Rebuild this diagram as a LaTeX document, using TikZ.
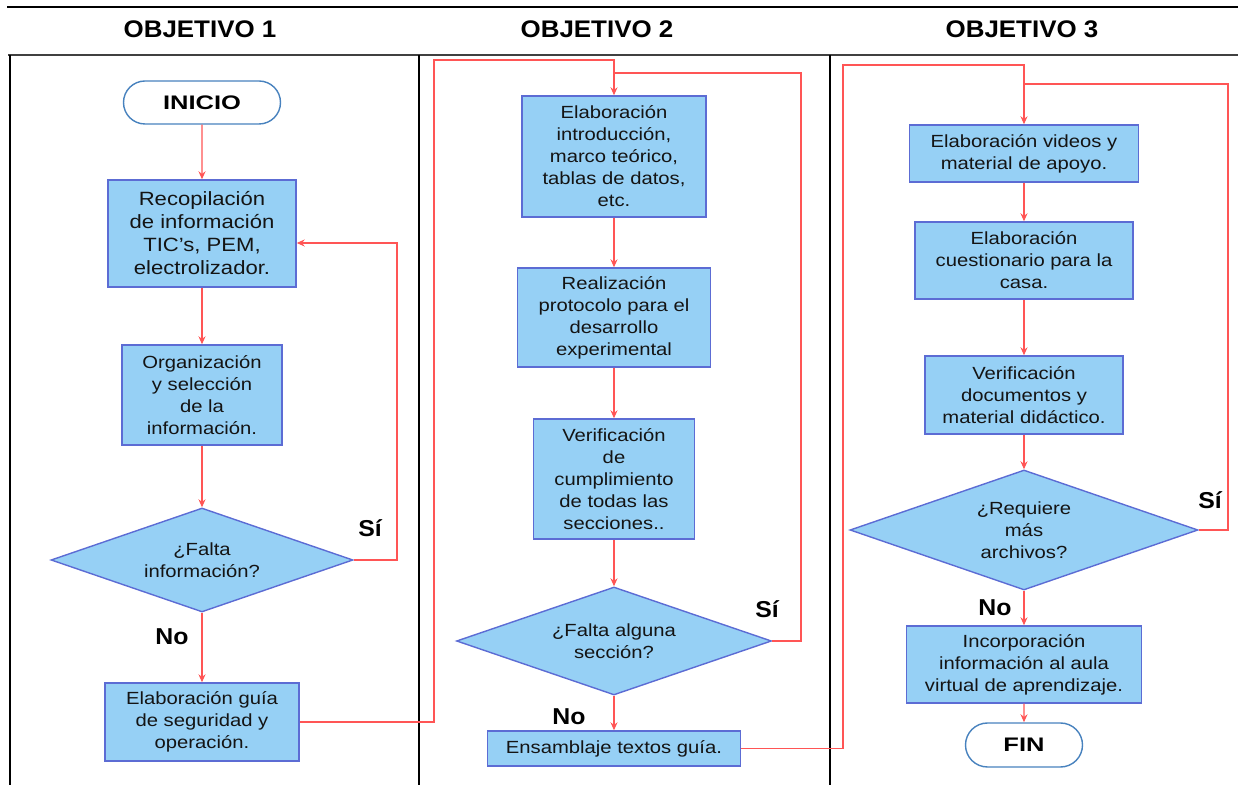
\documentclass[tikz,border=0pt]{standalone}
\usepackage{fontspec}
\setmainfont{Liberation Sans}[FakeStretch=1.15]
\newfontfamily\hdrfont{Liberation Sans}[FakeStretch=1.08]
\newfontfamily\termfont{Liberation Sans}[FakeStretch=1.3]
\usetikzlibrary{shapes.geometric,shapes.misc,arrows.meta}
\definecolor{boxfill}{RGB}{150,208,245}
\definecolor{boxline}{RGB}{92,108,212}
\definecolor{termline}{RGB}{72,130,190}
\definecolor{flow}{RGB}{255,85,85}
\definecolor{txt}{RGB}{20,20,20}
\tikzset{
  x=0.5pt, y=-0.5pt,
  procbox/.style={draw=boxline, line width=0.7pt, fill=boxfill, align=center,
    inner sep=0pt, text=txt, font=\fontsize{8.8}{11}\selectfont},
  decision/.style={diamond, draw=boxline, line width=0.7pt, fill=boxfill, align=center,
    inner sep=0pt, text=txt, font=\fontsize{8.8}{11}\selectfont},
  terminal/.style={rounded rectangle, draw=termline, line width=0.7pt, fill=white,
    font=\termfont\bfseries\fontsize{9.8}{11}\selectfont, inner sep=0pt},
  flowline/.style={draw=flow, line width=0.6pt},
  flowarrow/.style={flowline, -{Stealth[length=4pt,width=3.5pt]}},
  answer/.style={font=\hdrfont\bfseries\fontsize{11.5}{13}\selectfont},
  heading/.style={font=\hdrfont\bfseries\fontsize{12}{14}\selectfont},
  frame/.style={draw=black, line width=1.1pt},
}
\begin{document}
\begin{tikzpicture}
\useasboundingbox (0,0) rectangle (1238,785);

% column frame
\draw[frame] (7,7) -- (1238,7);
\draw[draw=black!75, line width=1.1pt] (8,55) -- (1238,55);
\draw[frame] (10,55) -- (10,785);
\draw[frame] (419,55) -- (419,785);
\draw[frame] (830,55) -- (830,785);

\node[heading] (h1) at (200,29) {OBJETIVO 1};
\node[heading] (h2) at (597,29) {OBJETIVO 2};
\node[heading] (h3) at (1022,29) {OBJETIVO 3};

% objective 1
\node[terminal, minimum width=78.5pt, minimum height=21.5pt] (ini) at (202,102.5) {INICIO};
\node[procbox, minimum width=94pt, minimum height=53.5pt,
      font=\fontsize{9.6}{11.5}\selectfont] (b1) at (202,233.5)
  {Recopilación\\de información\\TIC's, PEM,\\electrolizador.};
\node[procbox, minimum width=80pt, minimum height=50pt] (b2) at (202,395)
  {Organización\\y selección\\de la\\información.};
\node[decision, minimum width=151pt, minimum height=52pt, aspect=2.9] (d1) at (202,560)
  {¿Falta\\información?};
\node[procbox, minimum width=97pt, minimum height=39pt] (b3) at (202,722)
  {Elaboración guía\\de seguridad y\\operación.};

% objective 2
\node[procbox, minimum width=92pt, minimum height=60.5pt] (b4) at (614,156.5)
  {Elaboración\\introducción,\\marco teórico,\\tablas de datos,\\etc.};
\node[procbox, minimum width=96.5pt, minimum height=49.5pt] (b5) at (614,317.5)
  {Realización\\protocolo para el\\desarrollo\\experimental};
\node[procbox, minimum width=80.5pt, minimum height=60pt] (b6) at (614,479)
  {Verificación\\de\\cumplimiento\\de todas las\\secciones..};
\node[decision, minimum width=157.5pt, minimum height=54pt, aspect=2.9] (d2) at (614,641)
  {¿Falta alguna\\sección?};
\node[procbox, minimum width=126.5pt, minimum height=17.5pt] (b7) at (614,748.5)
  {Ensamblaje textos guía.};

% objective 3
\node[procbox, minimum width=114.5pt, minimum height=28.5pt] (b8) at (1024,153.5)
  {Elaboración videos y\\material de apoyo.};
\node[procbox, minimum width=109pt, minimum height=38.5pt] (b9) at (1024,260.5)
  {Elaboración\\cuestionario para la\\casa.};
\node[procbox, minimum width=99pt, minimum height=39pt] (b10) at (1024,395)
  {Verificación\\documentos y\\material didáctico.};
\node[decision, minimum width=174pt, minimum height=60pt, aspect=2.9] (d3) at (1024,530)
  {¿Requiere\\más\\archivos?};
\node[procbox, minimum width=117.5pt, minimum height=38.5pt] (b11) at (1024,664.5)
  {Incorporación\\información al aula\\virtual de aprendizaje.};
\node[terminal, minimum width=58.5pt, minimum height=22pt] (fin) at (1024,745) {FIN};

% answer labels
\node[answer] (si1) at (370,528) {Sí};
\node[answer] (no1) at (172,637) {No};
\node[answer] (si2) at (767,609) {Sí};
\node[answer] (no2) at (569,717) {No};
\node[answer] (si3) at (1210,500) {Sí};
\node[answer] (no3) at (995,608) {No};

% routing corners
\coordinate (r1) at (397,243);
\coordinate (k1) at (434,60);
\coordinate (r2) at (801,73);
\coordinate (k2) at (843,65);
\coordinate (r3) at (1228,84);

% main flow
\draw[flowarrow] (ini) -- (b1);
\draw[flowarrow] (b1) -- (b2);
\draw[flowarrow] (b2) -- (d1);
\draw[flowarrow] (d1) -- (b3);
\draw[flowarrow] (b4) -- (b5);
\draw[flowarrow] (b5) -- (b6);
\draw[flowarrow] (b6) -- (d2);
\draw[flowarrow] (d2) -- (b7);
\draw[flowarrow] (b8) -- (b9);
\draw[flowarrow] (b9) -- (b10);
\draw[flowarrow] (b10) -- (d3);
\draw[flowarrow] (d3) -- (b11);
\draw[flowarrow] (b11) -- (fin);

% loops back on "Sí"
\draw[flowarrow] (d1.east) -| (r1) -- (r1 -| b1.east);
\draw[flowline] (d2.east) -| (r2) -- (r2 -| b4.north);
\draw[flowline] (d3.east) -| (r3) -- (r3 -| b8.north);

% hand-over between objectives
\draw[flowarrow] (b3.east) -| (k1) -| (b4.north);
\draw[flowarrow] (b7.east) -| (k2) -| (b8.north);
\end{tikzpicture}
\end{document}
